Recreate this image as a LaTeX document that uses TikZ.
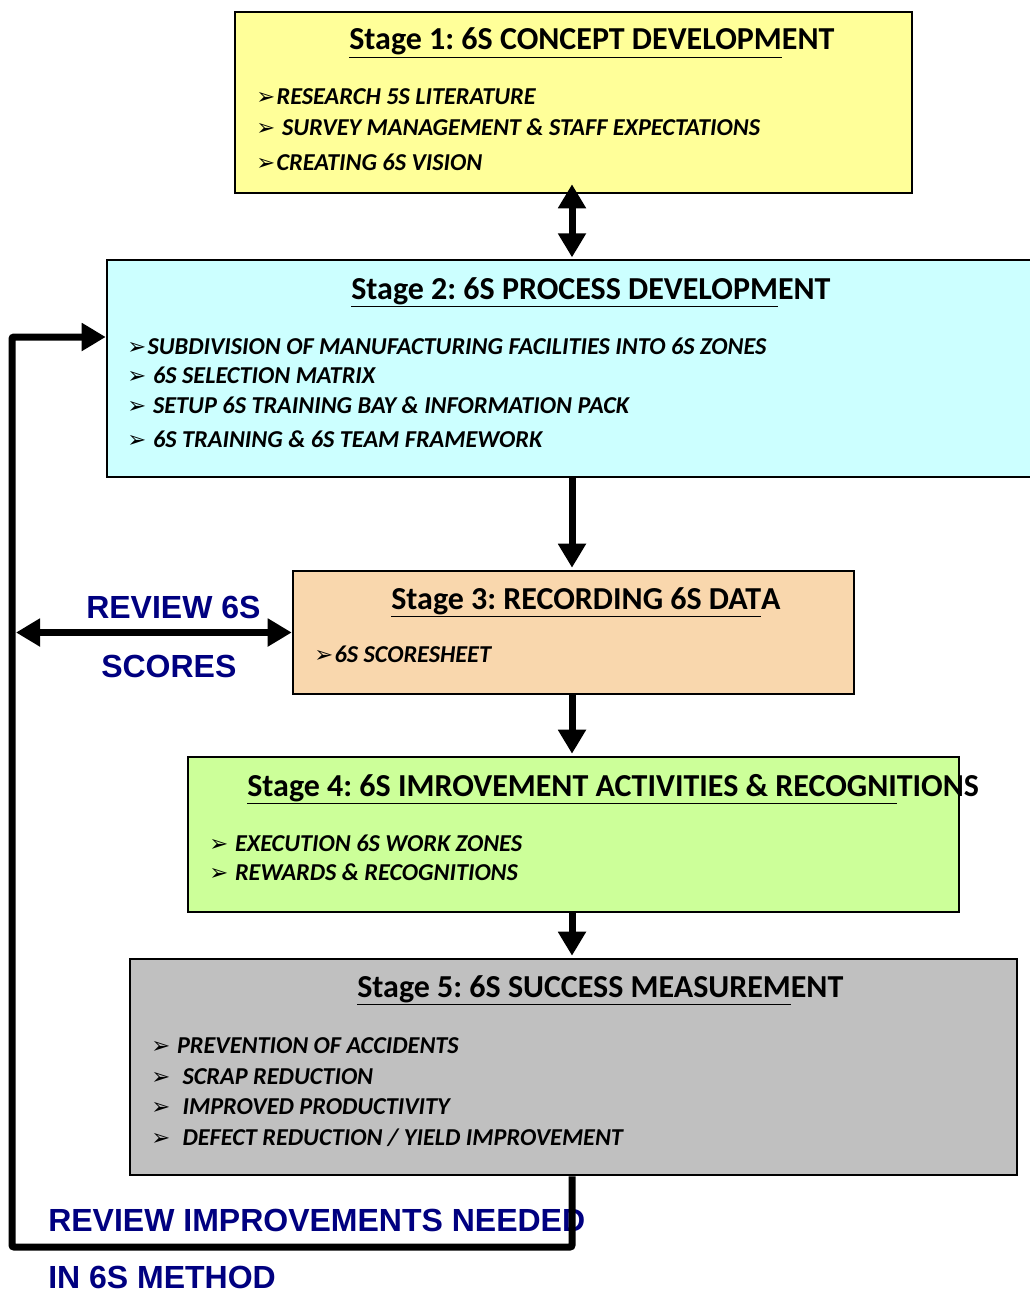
\documentclass[tikz,border=0pt]{standalone}
\usepackage{fontspec}
\setmainfont{Carlito}
\newfontfamily\arialf{Liberation Sans}
\newfontfamily\symf{DejaVu Sans}
\usetikzlibrary{arrows.meta,fit}
\definecolor{stageyellow}{HTML}{FFFF99}
\definecolor{stagecyan}{HTML}{CCFFFF}
\definecolor{stagepeach}{HTML}{F9D7AD}
\definecolor{stagegreen}{HTML}{CCFF99}
\definecolor{stagegray}{HTML}{C0C0C0}
\definecolor{reviewblue}{HTML}{000080}
\newcommand\bul{{\symf\fontsize{17}{19}\selectfont ➢}\hspace{1pt}}
\frenchspacing
\tikzset{
  stagebox/.style={draw=black, line width=1.9pt, inner sep=0pt},
  stagetitle/.style={anchor=base west, inner sep=0pt, font=\fontsize{24}{28}\selectfont\bfseries},
  stageitem/.style={anchor=base west, inner sep=0pt, font=\fontsize{18.2}{21}\selectfont\bfseries\itshape},
  flow/.style={line width=5.25pt, -{Triangle[width=20pt,length=18pt]}},
  bothflow/.style={line width=5.25pt, {Triangle[width=20pt,length=18pt]}-{Triangle[width=20pt,length=18pt]}},
  reviewlbl/.style={anchor=base west, inner sep=0pt, text=reviewblue, font=\arialf\fontsize{24}{28}\selectfont\bfseries},
}
\begin{document}
\begin{tikzpicture}[x=0.75pt, y=-0.75pt]
  \useasboundingbox (0,0) rectangle (1030,1295);
  % stage boxes
  \node[stagebox, fill=stageyellow, fit={(235,12) (912,193)}] (s1) {};
  \node[stagebox, fill=stagecyan, fit={(107,260) (1036,477)}] (s2) {};
  \node[stagebox, fill=stagepeach, fit={(293,571) (854,694)}] (s3) {};
  \node[stagebox, fill=stagegreen, fit={(188,757) (959,912)}] (s4) {};
  \node[stagebox, fill=stagegray, fit={(130,959) (1017,1175)}] (s5) {};
  % titles
  \node[stagetitle] (t1) at (349,50) {\underline{Stage 1: 6S CONCEPT DEVELOPM}ENT};
  \node[stagetitle] (t2) at (351,299) {\underline{Stage 2: 6S PROCESS DEVELOPM}ENT};
  \node[stagetitle] (t3) at (391,609) {\underline{Stage 3: RECORDING 6S DAT}A};
  \node[stagetitle] (t4) at (247,796) {\underline{Stage 4: 6S IMROVEMENT ACTIVITIES \& RECOGNI}TIONS};
  \node[stagetitle] (t5) at (357,997) {\underline{Stage 5: 6S SUCCESS MEASUREM}ENT};
  % bullet items
  \foreach \y/\txt in {104/{RESEARCH 5S LITERATURE}, 135/{\ SURVEY MANAGEMENT \& STAFF EXPECTATIONS}, 170/{CREATING 6S VISION}}
    \node[stageitem] (a\y) at (256,\y) {\bul\txt};
  \foreach \y/\txt in {354/{SUBDIVISION OF MANUFACTURING FACILITIES INTO 6S ZONES}, 383/{\ 6S SELECTION MATRIX}, 413/{\ SETUP 6S TRAINING BAY \& INFORMATION PACK}, 447/{\ 6S TRAINING \& 6S TEAM FRAMEWORK}}
    \node[stageitem] (b\y) at (127,\y) {\bul\txt};
  \node[stageitem] (c662) at (314,662) {\bul 6S SCORESHEET};
  \foreach \y/\txt in {851/{EXECUTION 6S WORK ZONES}, 880/{REWARDS \& RECOGNITIONS}}
    \node[stageitem] (d\y) at (209,\y) {\bul\ \txt};
  \foreach \y/\txt in {1053/{PREVENTION OF ACCIDENTS}, 1084/{\ SCRAP REDUCTION}, 1114/{\ IMPROVED PRODUCTIVITY}, 1145/{\ DEFECT REDUCTION / YIELD IMPROVEMENT}}
    \node[stageitem] (e\y) at (151,\y) {\bul\ \txt};
  % review labels
  \node[reviewlbl] (rv1) at (86,618) {REVIEW 6S};
  \node[reviewlbl] (rv2) at (101,677) {SCORES};
  \node[reviewlbl] (rv3) at (48,1231) {REVIEW IMPROVEMENTS NEEDED};
  \node[reviewlbl] (rv4) at (48,1288) {IN 6S METHOD};
  % connectors
  \coordinate (ax) at (572,0);
  \coordinate (lp) at (12,1247);
  \draw[bothflow, shorten <=-7.5pt, shorten >=1pt] (s1.south -| ax) -- (s2.north -| ax);
  \draw[flow, shorten >=1.5pt] (s2.south -| ax) -- (s3.north -| ax);
  \draw[flow, shorten >=1.5pt] (s3.south -| ax) -- (s4.north -| ax);
  \draw[flow, shorten >=1.5pt] (s4.south -| ax) -- (s5.north -| ax);
  \draw[flow, rounded corners=1.5pt] (s5.south -| ax) |- (lp) |- (s2.west |- 0,337);
  \draw[bothflow, shorten >=3pt] (s3.west) -- (s3.west -| lp);
\end{tikzpicture}
\end{document}
